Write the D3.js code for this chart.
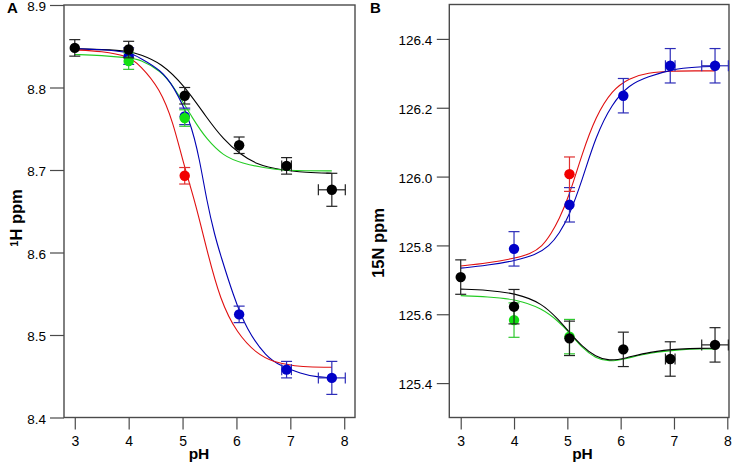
<!DOCTYPE html>
<html><head><meta charset="utf-8">
<script src="https://cdn.jsdelivr.net/npm/d3@7"></script>
<style>
body{margin:0;background:#fff}
svg{display:block}
text{font-family:"Liberation Sans",Arial,Helvetica,sans-serif;fill:#000}
</style></head>
<body><div id="chart"></div>
<script>
// ---------- data ----------
const phTicks = [3, 4, 5, 6, 7, 8];
const hTicks = [8.4, 8.5, 8.6, 8.7, 8.8, 8.9];
const nTicks = [125.4, 125.6, 125.8, 126.0, 126.2, 126.4];

// measured points: [pH, ppm, yErr, xErr]
const hBlue  = [[4, 8.838, 0.01, 0], [5.04, 8.765, 0.01, 0], [6.05, 8.525, 0.01, 0], [6.93, 8.458, 0.01, 0.09], [7.77, 8.448, 0.02, 0.25]];
const hRed   = [[5.04, 8.693, 0.01, 0]];
const hGreen = [[4, 8.832, 0.01, 0], [5.04, 8.763, 0.01, 0]];
const hBlack = [[3, 8.848, 0.01, 0], [4, 8.846, 0.01, 0], [5.04, 8.790, 0.01, 0], [6.05, 8.730, 0.01, 0], [6.93, 8.705, 0.01, 0.09], [7.77, 8.676, 0.02, 0.25]];

const nBlue  = [[4, 125.790, 0.05, 0], [5.04, 125.918, 0.05, 0], [6.05, 126.235, 0.05, 0], [6.93, 126.322, 0.05, 0.09], [7.77, 126.322, 0.05, 0.25]];
const nRed   = [[5.04, 126.007, 0.05, 0]];
const nGreen = [[4, 125.583, 0.05, 0], [5.04, 125.535, 0.05, 0]];
const nBlack = [[3, 125.708, 0.05, 0], [4, 125.622, 0.05, 0], [5.04, 125.530, 0.05, 0], [6.05, 125.498, 0.05, 0], [6.93, 125.470, 0.05, 0.09], [7.77, 125.511, 0.05, 0.25]];

// fitted curves: [pH, ppm]
const hBlueFit  = [[3, 8.847], [3.5, 8.846], [4, 8.843], [4.21, 8.836], [4.6, 8.821], [4.83, 8.802], [5.14, 8.761], [5.32, 8.712], [5.45, 8.662], [5.6, 8.620], [5.70, 8.598], [5.94, 8.548], [6.19, 8.506], [6.56, 8.473], [6.81, 8.463], [7.2, 8.453], [7.5, 8.449], [7.77, 8.448]];
const hRedFit   = [[3, 8.8456], [3.5, 8.844], [4, 8.838], [4.21, 8.827], [4.58, 8.799], [4.83, 8.757], [5.01, 8.709], [5.24, 8.660], [5.45, 8.603], [5.70, 8.542], [6.01, 8.502], [6.38, 8.477], [6.69, 8.467], [7.1, 8.462], [7.4, 8.461], [7.77, 8.461]];
const hGreenFit = [[3, 8.840], [3.5, 8.839], [4, 8.836], [4.21, 8.834], [4.6, 8.820], [4.83, 8.802], [5.2, 8.761], [5.45, 8.737], [5.76, 8.717], [6.07, 8.7086], [6.69, 8.700], [7.3, 8.699], [7.77, 8.699]];
const hBlackFit = [[3, 8.847], [3.5, 8.846], [4, 8.8445], [4.21, 8.840], [4.6, 8.830], [5.04, 8.802], [5.45, 8.763], [5.76, 8.737], [6.07, 8.719], [6.38, 8.7066], [6.81, 8.700], [7.3, 8.697], [7.77, 8.696]];

const nBlueFit  = [[3, 125.734], [3.5, 125.742], [4.03, 125.756], [4.4, 125.772], [4.66, 125.797], [4.85, 125.835], [5.03, 125.884], [5.28, 125.990], [5.53, 126.116], [5.84, 126.213], [6.16, 126.267], [6.5, 126.290], [7, 126.313], [7.4, 126.318], [7.77, 126.320]];
const nRedFit   = [[3, 125.740], [3.5, 125.749], [4.03, 125.763], [4.3, 125.775], [4.53, 125.797], [4.7, 125.835], [4.84, 125.874], [5.03, 125.942], [5.28, 126.068], [5.53, 126.174], [5.84, 126.252], [6.16, 126.286], [6.5, 126.302], [7, 126.307], [7.4, 126.307], [7.77, 126.307]];
const nGreenFit = [[3, 125.654], [3.5, 125.651], [4.03, 125.644], [4.53, 125.617], [4.84, 125.578], [5.03, 125.549], [5.28, 125.501], [5.53, 125.472], [5.78, 125.462], [6.09, 125.470], [6.53, 125.488], [7.15, 125.498], [7.5, 125.499], [7.77, 125.499]];
const nBlackFit = [[3, 125.673], [3.5, 125.670], [4.03, 125.661], [4.53, 125.632], [4.84, 125.583], [5.03, 125.549], [5.28, 125.506], [5.53, 125.477], [5.78, 125.464], [6.09, 125.472], [6.53, 125.491], [7.15, 125.500], [7.5, 125.501], [7.77, 125.501]];

// ---------- styles ----------
const COL = {
  blue:  {pt: "#0000c8", line: "#0000b4", err: "#2c2cb8"},
  red:   {pt: "#f20000", line: "#e01010", err: "#e03030"},
  green: {pt: "#12e012", line: "#22cc22", err: "#30c830"},
  black: {pt: "#000000", line: "#000000", err: "#222222"}
};
const FRAME = "#4a4a4a";

const svg = d3.select("#chart").append("svg").attr("width", 740).attr("height", 466);

function panel(cfg) {
  const x = d3.scaleLinear().domain(cfg.xDom).range([cfg.left, cfg.right]);
  const y = d3.scaleLinear().domain(cfg.yDom).range([cfg.bottom, cfg.top]);
  const g = svg.append("g");

  // y axis
  const ya = g.append("g").attr("transform", `translate(${cfg.left},0)`)
    .call(d3.axisLeft(y).tickValues(cfg.yTicks).tickFormat(d3.format(".1f")).tickSize(cfg.yTickLen).tickPadding(cfg.yPad));
  ya.select(".domain").remove();
  ya.selectAll("line").attr("stroke", FRAME).attr("stroke-width", 1.2);
  ya.selectAll("text").attr("font-size", "13.5px").attr("fill", "#111").attr("dy", "0.42em")
    .attr("font-family", "Liberation Sans, Arial, sans-serif");

  // x axis
  const xa = g.append("g").attr("transform", `translate(0,${cfg.bottom})`)
    .call(d3.axisBottom(x).tickValues(phTicks).tickFormat(d3.format("d")).tickSize(12).tickPadding(7));
  xa.select(".domain").remove();
  xa.selectAll("line").attr("stroke", FRAME).attr("stroke-width", 1.2);
  xa.selectAll("text").attr("font-size", "14px").attr("fill", "#111").attr("font-family", "Liberation Sans, Arial, sans-serif");

  // frame
  g.append("rect").attr("x", cfg.left).attr("y", cfg.top)
    .attr("width", cfg.right - cfg.left).attr("height", cfg.bottom - cfg.top)
    .attr("fill", "none").attr("stroke", FRAME).attr("stroke-width", 1.4);

  // curves
  const line = d3.line().x(d => x(d[0])).y(d => y(d[1])).curve(d3.curveBasis);
  cfg.fits.forEach(f => {
    g.append("path").datum(f.data).attr("d", line)
      .attr("fill", "none").attr("stroke", COL[f.c].line).attr("stroke-width", 1.1);
  });

  // points with error bars
  const cap = 5.5;
  cfg.pts.forEach(s => {
    const c = COL[s.c];
    const sg = g.append("g");
    s.data.forEach(d => {
      const px = x(d[0]), py = y(d[1]);
      const e = sg.append("g").attr("stroke", c.err).attr("stroke-width", 1.2).attr("fill", "none");
      const y1 = y(d[1] - d[2]), y2 = y(d[1] + d[2]);
      e.append("line").attr("x1", px).attr("x2", px).attr("y1", y1).attr("y2", y2);
      e.append("line").attr("x1", px - cap).attr("x2", px + cap).attr("y1", y1).attr("y2", y1);
      e.append("line").attr("x1", px - cap).attr("x2", px + cap).attr("y1", y2).attr("y2", y2);
      if (d[3] > 0) {
        const x1 = x(d[0] - d[3]), x2 = x(d[0] + d[3]);
        e.append("line").attr("x1", x1).attr("x2", x2).attr("y1", py).attr("y2", py);
        e.append("line").attr("x1", x1).attr("x2", x1).attr("y1", py - cap).attr("y2", py + cap);
        e.append("line").attr("x1", x2).attr("x2", x2).attr("y1", py - cap).attr("y2", py + cap);
      }
      sg.append("circle").attr("cx", px).attr("cy", py).attr("r", 5.2).attr("fill", c.pt);
    });
  });

  // panel letter
  g.append("text").attr("x", cfg.letterX).attr("y", 13).attr("font-size", "15px")
    .attr("font-weight", "bold").text(cfg.letter);

  // x title
  g.append("text").attr("x", cfg.xTitleX).attr("y", 459).attr("text-anchor", "middle")
    .attr("font-size", "15.5px").attr("font-weight", "bold").text("pH");

  // y title
  const yt = g.append("text").attr("transform", `translate(${cfg.yTitleX},${cfg.yTitleY}) rotate(-90)`)
    .attr("text-anchor", "middle").attr("font-size", "16.5px").attr("font-weight", "bold");
  cfg.yTitle(yt);
}

panel({
  left: 64, right: 355, top: 5, bottom: 417.5,
  xDom: [2.8, 8.2], yDom: [8.4, 8.9], yTicks: hTicks, yTickLen: 14, yPad: 4,
  fits: [{c: "black", data: hBlackFit}, {c: "green", data: hGreenFit}, {c: "blue", data: hBlueFit}, {c: "red", data: hRedFit}],
  pts: [{c: "blue", data: hBlue}, {c: "red", data: hRed}, {c: "green", data: hGreen}, {c: "black", data: hBlack}],
  letter: "A", letterX: 7, xTitleX: 199, yTitleX: 22, yTitleY: 218,
  yTitle: t => {
    t.append("tspan").attr("font-size", "11px").attr("baseline-shift", "35%").text("1");
    t.append("tspan").text("H ppm");
  }
});

panel({
  left: 449.3, right: 729, top: 4.5, bottom: 417.5,
  xDom: [2.786, 8.032], yDom: [125.3, 126.5], yTicks: nTicks, yTickLen: 12.5, yPad: 4.5,
  fits: [{c: "red", data: nRedFit}, {c: "blue", data: nBlueFit}, {c: "green", data: nGreenFit}, {c: "black", data: nBlackFit}],
  pts: [{c: "blue", data: nBlue}, {c: "red", data: nRed}, {c: "green", data: nGreen}, {c: "black", data: nBlack}],
  letter: "B", letterX: 370, xTitleX: 582.5, yTitleX: 383.5, yTitleY: 243,
  yTitle: t => { t.text("15N ppm"); }
});
</script>
</body></html>
